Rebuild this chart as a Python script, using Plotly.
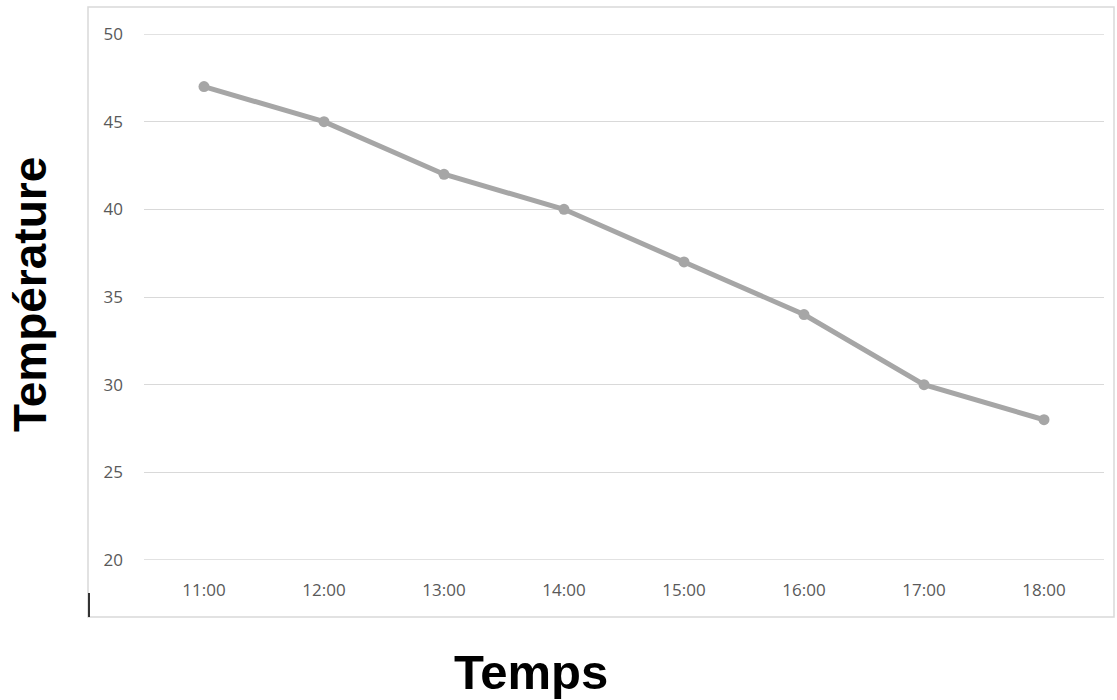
import plotly.graph_objects as go

heures = ["11:00", "12:00", "13:00", "14:00", "15:00", "16:00", "17:00", "18:00"]
temperature = [47, 45, 42, 40, 37, 34, 30, 28]
y_ticks = [20, 25, 30, 35, 40, 45, 50]

# plot area in pixels: x 144..1104, y 34..560
L, R, T, B = 144, 1104, 34, 560
W, H = 1117, 700

def px(x):
    return (x - L) / (R - L)

def py(y):
    return (B - y) / (B - T)

grid_color = "#d9d9d9"

fig = go.Figure()
fig.add_trace(go.Scatter(
    x=heures, y=temperature, mode="lines+markers",
    line=dict(color="#a6a6a6", width=5),
    marker=dict(color="#a6a6a6", size=11),
    showlegend=False, hoverinfo="x+y",
))

shapes = [
    dict(type="rect", xref="paper", yref="paper",
         x0=px(88), x1=px(1114), y0=py(617), y1=py(7),
         line=dict(color=grid_color, width=1.5), layer="below"),
    dict(type="line", xref="paper", yref="paper",
         x0=px(89), x1=px(89), y0=py(617), y1=py(593),
         line=dict(color="#333333", width=2)),
]
# edge gridlines (plotly hides gridlines on the range boundaries)
for v in (y_ticks[0], y_ticks[-1]):
    shapes.append(dict(type="line", xref="paper", yref="y",
                       x0=0, x1=1, y0=v, y1=v, layer="below",
                       line=dict(color=grid_color, width=1.3)))

fig.update_layout(
    width=W, height=H,
    margin=dict(l=L, r=W - R, t=T, b=H - B, pad=0),
    paper_bgcolor="white", plot_bgcolor="white",
    font=dict(family="Open Sans, Liberation Sans, sans-serif", color="#595959", size=17),
    xaxis=dict(
        type="category", range=[-0.5, len(heures) - 0.5],
        showgrid=False, zeroline=False, showline=False,
        tickfont=dict(size=17, color="#595959"),
        ticks="", ticklabelstandoff=18,
    ),
    yaxis=dict(
        range=[20, 50], tickvals=y_ticks,
        showgrid=True, gridcolor=grid_color, gridwidth=1.3,
        zeroline=False, showline=False,
        tickfont=dict(size=17, color="#595959"),
        ticks="", ticklabelstandoff=20,
    ),
    shapes=shapes,
    annotations=[
        dict(text="<b>Temps</b>", xref="paper", yref="paper",
             x=px(531), y=py(672), xanchor="center", yanchor="middle",
             showarrow=False,
             font=dict(family="Liberation Sans, Arial, sans-serif", size=49, color="black")),
        dict(text="<b>Température</b>", xref="paper", yref="paper",
             x=px(30), y=py(295), xanchor="center", yanchor="middle",
             showarrow=False, textangle=-90, borderpad=0,
             font=dict(family="Liberation Sans, Arial, sans-serif", size=46, color="black")),
    ],
)

fig.write_html("out.html")
